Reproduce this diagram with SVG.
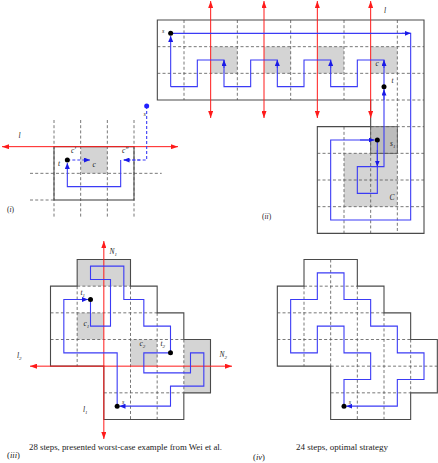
<svg xmlns="http://www.w3.org/2000/svg" width="438" height="463" viewBox="0 0 438 463">
<style>
.bd{fill:none;stroke:#4a4a4a;stroke-width:1.1}
.ds{fill:none;stroke:#555;stroke-width:0.8;stroke-dasharray:3 2.2}
.rd{fill:none;stroke:#ff1a1a;stroke-width:1;marker-start:url(#ra);marker-end:url(#ra)}
.bl{fill:none;stroke:#3b3bf5;stroke-width:1.1}
.bla{fill:none;stroke:#3b3bf5;stroke-width:1.1;marker-end:url(#ba)}
.bdl{fill:none;stroke:#3b3bf5;stroke-width:1.1;stroke-dasharray:3 2}
.bdla{fill:none;stroke:#3b3bf5;stroke-width:1.1;stroke-dasharray:3 2;marker-end:url(#ba)}
.g{fill:#d4d4d4}
.g2{fill:#bdbdbd;stroke:#555;stroke-width:0.8}
.dot{fill:#000}
.m{font-family:"Liberation Serif",serif;font-style:italic;font-size:7.5px;fill:#222}
.sm{font-size:5px}
.cap{font-family:"Liberation Serif",serif;font-size:8.6px;fill:#222}
</style>
<defs>
<marker id="ra" viewBox="0 0 7 5" refX="7" refY="2.5" markerWidth="7" markerHeight="5" markerUnits="userSpaceOnUse" orient="auto-start-reverse"><path d="M0,0 L7,2.5 L0,5 z" fill="#ff1a1a"/></marker>
<marker id="ba" viewBox="0 0 6 5" refX="6" refY="2.5" markerWidth="6" markerHeight="5" markerUnits="userSpaceOnUse" orient="auto"><path d="M0,0 L6,2.5 L0,5 z" fill="#1a1ae6"/></marker>
</defs>

<!-- Panel (i) -->
<g id="panel-i">
<rect class="g" x="80.67" y="146.67" width="26.67" height="26.67"/>
<path class="ds" d="M54,120 V218.5 M80.67,120 V218.5 M107.33,120 V218.5 M134,120 V218.5 M30,173.33 H161.7 M30,200 H54"/>
<rect class="bd" x="54" y="146.67" width="80" height="53.33"/>
<path class="rd" d="M2,146.67 H178"/>
<path class="bdl" d="M146.67,106 V160 H124"/>
<path class="bdla" d="M140,160 H123.5"/>
<path class="bla" d="M120.67,160 V186.67 H67.33 V163"/>
<path class="bdla" d="M67.33,160 H90"/>
<circle cx="146.67" cy="106" r="2.5" fill="#2020ff"/>
<circle class="dot" cx="67.33" cy="160" r="2.5"/>
<text class="m" x="18.5" y="138">l</text>
<text class="m" x="71" y="153">c′</text>
<text class="m" x="122" y="153">c″</text>
<text class="m" x="58" y="166">t</text>
<text class="m" x="92.5" y="167">c</text>
<text class="m" x="143.5" y="116" style="font-size:6px">s</text>
<text class="m" x="7" y="212" style="font-style:normal">(<tspan style="font-style:italic">i</tspan>)</text>
</g>

<!-- Panel (ii) -->
<g id="panel-ii">
<rect class="g" x="210.67" y="46.67" width="26.67" height="26.67"/>
<rect class="g" x="264" y="46.67" width="26.67" height="26.67"/>
<rect class="g" x="317.33" y="46.67" width="26.67" height="26.67"/>
<rect class="g" x="370.67" y="46.67" width="26.67" height="26.67"/>
<rect class="g" x="344" y="153.33" width="53.33" height="53.33"/>
<rect class="g2" x="370.67" y="126.67" width="26.67" height="26.67"/>
<path class="ds" d="M157.33,46.67 H424 M157.33,73.33 H424 M370.67,100 H424 M370.67,126.67 H424 M317.33,153.33 H424 M317.33,180 H424 M317.33,206.67 H424 M184,20 V100 M237.33,20 V100 M290.67,20 V100 M344,20 V100 M397.33,20 V233.33 M344,126.67 V233.33 M370.67,126.67 V233.33"/>
<path class="bd" d="M157.33,20 H424 V233.33 H317.33 V126.67 H370.67 V100 H157.33 Z"/>
<path class="rd" d="M210.67,118 V1"/>
<path class="rd" d="M264,118 V1"/>
<path class="rd" d="M317.33,118 V1"/>
<path class="rd" d="M370.67,118 V1"/>
<path class="bl" d="M170.67,86.67 H197.33 V60 H224 V86.67 H250.67 V60 H277.33 V86.67 H304 V60 H330.67 V86.67 H357.33 V60 H384 V166.67 H357.33 V193.33 H377.33 V142"/>
<path class="bla" d="M170.67,86.67 V36"/>
<path class="bla" d="M224,68 V60"/>
<path class="bla" d="M277.33,68 V60"/>
<path class="bla" d="M330.67,68 V60"/>
<path class="bla" d="M384,68 V60"/>
<path class="bla" d="M384,100 V89.5"/>
<path class="bla" d="M377.33,150 V166.5"/>
<path class="bl" d="M170.67,33.33 H410.67 V220 H330.67 V140 H372"/>
<path class="bla" d="M402,33.33 H410.67"/>
<path class="bla" d="M360,140 H374.5"/>
<circle class="dot" cx="170.67" cy="33.33" r="2.5"/>
<circle class="dot" cx="384" cy="86.67" r="2.5"/>
<circle class="dot" cx="377.33" cy="140" r="2.5"/>
<text class="m" x="162" y="33" style="font-size:6px">s</text>
<text class="m" x="384" y="13">l</text>
<text class="m" x="375.5" y="66">c</text>
<text class="m" x="391.5" y="83">t</text>
<text class="m" x="390" y="146">s<tspan class="sm" dy="1.5">1</tspan></text>
<text class="m" x="389.5" y="200">C</text>
<text class="m" x="262" y="219" style="font-style:normal">(<tspan style="font-style:italic">ii</tspan>)</text>
</g>

<!-- Panel (iii) -->
<g id="panel-iii">
<rect class="g" x="77.17" y="259.5" width="53.33" height="26.67"/>
<rect class="g" x="183.83" y="339.5" width="26.67" height="53.33"/>
<rect class="g" x="77.17" y="312.83" width="26.67" height="26.67"/>
<rect class="g" x="130.5" y="339.5" width="26.67" height="26.67"/>
<path class="ds" d="M77.17,286.17 H130.5 M50.5,312.83 H157.17 M50.5,339.5 H183.83 M103.83,392.83 H183.83 M77.17,286.17 V366.17 M130.5,286.17 V419.5 M157.17,312.83 V419.5 M183.83,339.5 V392.83"/>
<path class="bd" d="M77.17,259.5 H130.5 V286.17 H157.17 V312.83 H183.83 V339.5 H210.5 V392.83 H183.83 V419.5 H103.83 V366.17 H50.5 V286.17 H77.17 Z"/>
<path class="rd" d="M103.83,439 V241"/>
<path class="rd" d="M30,366.17 H232"/>
<path class="bla" d="M117.17,406.17 V352.83 H63.83 V299.5 H88"/>
<path class="bla" d="M170.5,352.83 H143.83 V372.83 H190.5 V352.83 H203.83 V386.17 H170.5 V406.17 H119.5"/>
<path class="bl" d="M90.5,299.5 V326.17 H110.5 V279.5 H90.5 V266.17 H123.83 V299.5 H143.83 V326.17 H170.5 V352.83"/>
<circle class="dot" cx="90.5" cy="299.5" r="2.5"/>
<circle class="dot" cx="170.5" cy="352.83" r="2.5"/>
<circle class="dot" cx="117.17" cy="406.17" r="2.5"/>
<text class="m" x="109.5" y="254">N<tspan class="sm" dy="1.5">1</tspan></text>
<text class="m" x="219.5" y="357">N<tspan class="sm" dy="1.5">2</tspan></text>
<text class="m" x="17" y="358">l<tspan class="sm" dy="1.5">2</tspan></text>
<text class="m" x="83" y="412">l<tspan class="sm" dy="1.5">1</tspan></text>
<text class="m" x="80.5" y="295">t<tspan class="sm" dy="1.5">1</tspan></text>
<text class="m" x="83.5" y="326">c<tspan class="sm" dy="1.5">1</tspan></text>
<text class="m" x="139.5" y="346">c<tspan class="sm" dy="1.5">2</tspan></text>
<text class="m" x="160.5" y="346">t<tspan class="sm" dy="1.5">2</tspan></text>
<text class="m" x="122" y="403.5" style="font-size:6px">s</text>
<text class="cap" x="29" y="450" textLength="193" lengthAdjust="spacingAndGlyphs">28 steps, presented worst-case example from Wei et al.</text>
<text class="cap" x="7" y="457.5">(<tspan style="font-style:italic">iii</tspan>)</text>
</g>

<!-- Panel (iv) -->
<g id="panel-iv">
<g transform="translate(226.83,0)">
<path class="ds" d="M77.17,286.17 H130.5 M50.5,312.83 H157.17 M50.5,339.5 H183.83 M103.83,366.17 H210.5 M103.83,392.83 H183.83 M77.17,286.17 V366.17 M103.83,259.5 V366.17 M130.5,286.17 V419.5 M157.17,312.83 V419.5 M183.83,339.5 V392.83"/>
<path class="bd" d="M77.17,259.5 H130.5 V286.17 H157.17 V312.83 H183.83 V339.5 H210.5 V392.83 H183.83 V419.5 H103.83 V366.17 H50.5 V286.17 H77.17 Z"/>
<path class="bla" d="M117.17,406.17 V379.5 H143.83 V352.83 H117.17 V326.17 H90.5 V352.83 H63.83 V299.5 H90.5 V272.83 H117.17 V299.5 H143.83 V326.17 H170.5 V352.83 H197.17 V379.5 H170.5 V406.17 H119.5"/>
<circle class="dot" cx="117.17" cy="406.17" r="2.5"/>
<text class="m" x="122" y="403.5" style="font-size:6px">s</text>
</g>
<text class="cap" x="296" y="450" textLength="92" lengthAdjust="spacingAndGlyphs">24 steps, optimal strategy</text>
<text class="cap" x="253" y="459.5">(<tspan style="font-style:italic">iv</tspan>)</text>
</g>
</svg>
